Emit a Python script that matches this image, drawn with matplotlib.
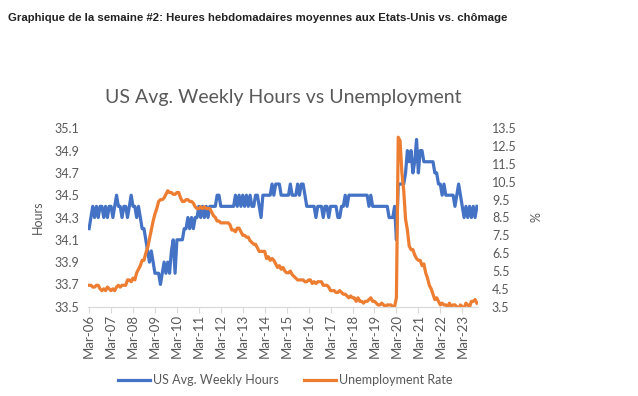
import numpy as np
import matplotlib
matplotlib.use("Agg")
from matplotlib import pyplot as plt

# monthly data, Mar-06 .. Nov-23
hours = [
    34.2, 34.3, 34.4, 34.3, 34.4, 34.3, 34.4, 34.4, 34.3, 34.4,  # 2006 (Mar-Dec)
    34.3, 34.4, 34.4, 34.3, 34.4, 34.5, 34.4, 34.4, 34.3, 34.4, 34.4, 34.3,  # 2007
    34.4, 34.5, 34.4, 34.4, 34.3, 34.4, 34.3, 34.2, 34.2, 34.1, 34.0, 33.9,  # 2008
    34.0, 33.9, 33.8, 33.8, 33.8, 33.7, 33.8, 33.9, 33.8, 33.9, 33.8, 34.0,  # 2009
    34.1, 33.8, 34.1, 34.1, 34.1, 34.1, 34.2, 34.2, 34.3, 34.2, 34.3, 34.2,  # 2010
    34.3, 34.3, 34.4, 34.3, 34.4, 34.3, 34.4, 34.3, 34.4, 34.4, 34.4, 34.4,  # 2011
    34.5, 34.5, 34.4, 34.4, 34.4, 34.4, 34.4, 34.4, 34.4, 34.4, 34.5, 34.4,  # 2012
    34.5, 34.4, 34.5, 34.4, 34.5, 34.4, 34.5, 34.4, 34.4, 34.5, 34.5, 34.4,  # 2013
    34.3, 34.5, 34.5, 34.5, 34.5, 34.5, 34.6, 34.5, 34.6, 34.6, 34.6, 34.5,  # 2014
    34.5, 34.5, 34.5, 34.5, 34.6, 34.5, 34.5, 34.5, 34.6, 34.5, 34.6, 34.6,  # 2015
    34.5, 34.4, 34.4, 34.4, 34.4, 34.4, 34.3, 34.4, 34.4, 34.4, 34.3, 34.4,  # 2016
    34.4, 34.3, 34.4, 34.4, 34.4, 34.4, 34.3, 34.3, 34.4, 34.4, 34.5, 34.4,  # 2017
    34.5, 34.5, 34.5, 34.5, 34.5, 34.5, 34.5, 34.5, 34.5, 34.5, 34.5, 34.4,  # 2018
    34.5, 34.4, 34.4, 34.4, 34.4, 34.4, 34.4, 34.4, 34.4, 34.4, 34.3, 34.3,  # 2019
    34.3, 34.4, 34.1, 34.6, 34.6, 34.6, 34.6, 34.7, 34.9, 34.8, 34.9, 34.7,  # 2020
    34.8, 35.0, 34.7, 34.9, 34.9, 34.8, 34.8, 34.8, 34.8, 34.8, 34.8, 34.7,  # 2021
    34.7, 34.6, 34.6, 34.5, 34.6, 34.5, 34.5, 34.5, 34.5, 34.5, 34.4, 34.5,  # 2022
    34.6, 34.5, 34.4, 34.3, 34.4, 34.3, 34.4, 34.3, 34.4, 34.3, 34.4,  # 2023 (Jan-Nov)
]

unemployment = [
    4.7, 4.7, 4.6, 4.6, 4.7, 4.7, 4.5, 4.4, 4.5, 4.4,  # 2006 (Mar-Dec)
    4.6, 4.5, 4.4, 4.5, 4.4, 4.6, 4.7, 4.6, 4.7, 4.7, 4.7, 5.0,  # 2007
    5.0, 4.9, 5.1, 5.0, 5.4, 5.6, 5.8, 6.1, 6.1, 6.5, 6.8, 7.3,  # 2008
    7.8, 8.3, 8.7, 9.0, 9.4, 9.5, 9.5, 9.6, 9.8, 10.0, 9.9, 9.9,  # 2009
    9.8, 9.8, 9.9, 9.9, 9.6, 9.4, 9.4, 9.5, 9.5, 9.4, 9.4, 9.3,  # 2010
    9.1, 9.0, 9.0, 9.1, 9.0, 9.1, 9.0, 9.0, 9.0, 8.8, 8.6, 8.5,  # 2011
    8.3, 8.3, 8.2, 8.2, 8.2, 8.2, 8.2, 8.1, 7.8, 7.8, 7.7, 7.9,  # 2012
    7.9, 7.7, 7.5, 7.5, 7.4, 7.4, 7.2, 7.1, 7.0, 7.0, 6.8, 6.6,  # 2013
    6.6, 6.6, 6.6, 6.2, 6.3, 6.1, 6.2, 6.1, 5.9, 5.7, 5.8, 5.6,  # 2014
    5.7, 5.5, 5.4, 5.4, 5.5, 5.3, 5.2, 5.1, 5.0, 5.0, 5.0, 5.0,  # 2015
    4.9, 4.9, 5.0, 5.0, 4.8, 4.9, 4.8, 4.9, 4.9, 4.9, 4.7, 4.7,  # 2016
    4.7, 4.6, 4.4, 4.4, 4.4, 4.3, 4.3, 4.4, 4.3, 4.2, 4.2, 4.1,  # 2017
    4.0, 4.1, 4.0, 4.0, 3.8, 4.0, 3.8, 3.8, 3.7, 3.8, 3.8, 3.9,  # 2018
    4.0, 3.8, 3.8, 3.7, 3.6, 3.6, 3.7, 3.6, 3.5, 3.6, 3.6, 3.6,  # 2019
    3.5, 3.5, 4.0, 13.0, 12.8, 11.0, 10.0, 8.4, 7.8, 6.9, 6.7, 6.7,  # 2020
    6.4, 6.2, 6.1, 6.1, 5.8, 5.9, 5.4, 5.1, 4.7, 4.5, 4.2, 3.9,  # 2021
    4.0, 3.8, 3.6, 3.7, 3.6, 3.6, 3.5, 3.7, 3.5, 3.6, 3.6, 3.5,  # 2022
    3.4, 3.6, 3.5, 3.4, 3.7, 3.6, 3.5, 3.8, 3.8, 3.9, 3.7,  # 2023 (Jan-Nov)
]

tick_labels = ["Mar-%02d" % y for y in range(6, 24)]
left_ticks = [33.5, 33.7, 33.9, 34.1, 34.3, 34.5, 34.7, 34.9, 35.1]
right_ticks = [3.5, 4.5, 5.5, 6.5, 7.5, 8.5, 9.5, 10.5, 11.5, 12.5, 13.5]

blue = "#4472C4"
orange = "#ED7D31"
grey = "#595959"
plt.rcParams["font.family"] = ["Lato", "DejaVu Sans"]

fig = plt.figure(figsize=(6.38, 3.96), dpi=100)
fig.text(8 / 638, 1 - 18 / 396, "Graphique de la semaine #2: Heures hebdomadaires moyennes aux Etats-Unis vs. chômage",
         fontsize=8.2, fontweight="bold", color="#222222", va="center", ha="left",
         family=["Liberation Sans", "DejaVu Sans"])

ax = fig.add_axes([88 / 638, 1 - 306.7 / 396, (478 - 88) / 638, (306.7 - 128.3) / 396])
ax2 = ax.twinx()

x = np.arange(len(hours))
l1, = ax.plot(x, hours, color=blue, lw=2.3, label="US Avg. Weekly Hours", solid_joinstyle="round")
l2, = ax2.plot(x, unemployment, color=orange, lw=2.3, label="Unemployment Rate", solid_joinstyle="round")

ax.set_xlim(-0.6, len(hours) - 0.4)
ax.set_ylim(33.5, 35.1)
ax2.set_ylim(3.5, 13.5)
ax.set_yticks(left_ticks)
ax.set_yticklabels(["%.1f" % v for v in left_ticks])
ax2.set_yticks(right_ticks)
ax2.set_yticklabels(["%.1f" % v for v in right_ticks])
ax.set_xticks(np.arange(0, len(hours), 12))
ax.set_xticklabels(tick_labels, rotation=90)

for a in (ax, ax2):
    for s in ("top", "left", "right"):
        a.spines[s].set_visible(False)
    a.spines["bottom"].set_color("#d9d9d9")
    a.tick_params(axis="y", length=0, labelsize=9, colors=grey)
ax.tick_params(axis="y", pad=6)
ax2.tick_params(axis="y", pad=10)
ax.tick_params(axis="x", length=4, color="#d9d9d9", labelsize=9.5, labelcolor=grey, pad=1)

ax.set_ylabel("Hours", color=grey, fontsize=9, labelpad=8)
ax2.set_ylabel("%", color=grey, fontsize=9, labelpad=10)

fig.text(283 / 638, 1 - 98 / 396, "US Avg. Weekly Hours vs Unemployment", fontsize=14,
         color=grey, ha="center", va="center")

fig.legend([l1, l2], [l1.get_label(), l2.get_label()], loc="center", ncol=2,
           bbox_to_anchor=(285 / 638, 1 - 380 / 396), frameon=False, fontsize=9,
           handlelength=2.6, columnspacing=2.0, handletextpad=0.2, labelcolor=grey)

fig.savefig("out.png", dpi=100, facecolor="white")
